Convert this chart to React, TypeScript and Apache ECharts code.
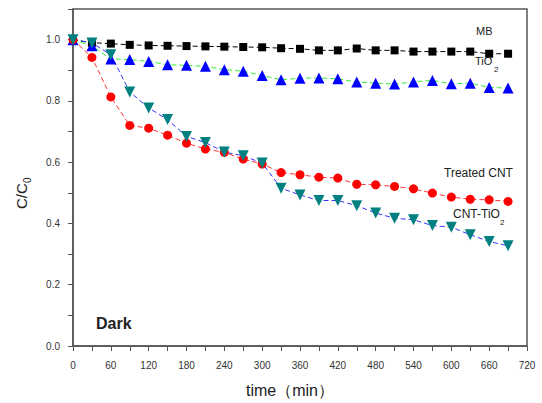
import React, { useEffect, useRef } from "react";
import * as echarts from "echarts";

const times = [0, 30, 60, 90, 120, 150, 180, 210, 240, 270, 300, 330, 360, 390, 420, 450, 480, 510, 540, 570, 600, 630, 660, 690];
const mb = [1.0, 0.99, 0.987, 0.983, 0.981, 0.98, 0.979, 0.978, 0.977, 0.976, 0.975, 0.972, 0.97, 0.965, 0.965, 0.971, 0.965, 0.965, 0.961, 0.961, 0.961, 0.961, 0.954, 0.954];
const tio2 = [1.0, 0.98, 0.937, 0.935, 0.929, 0.918, 0.916, 0.913, 0.902, 0.897, 0.883, 0.869, 0.874, 0.875, 0.872, 0.862, 0.858, 0.855, 0.862, 0.867, 0.856, 0.858, 0.844, 0.842];
const treatedCnt = [1.0, 0.942, 0.813, 0.72, 0.711, 0.688, 0.662, 0.643, 0.632, 0.61, 0.594, 0.566, 0.559, 0.551, 0.548, 0.528, 0.526, 0.521, 0.513, 0.499, 0.486, 0.479, 0.477, 0.472];
const cntTio2 = [1.0, 0.989, 0.951, 0.829, 0.777, 0.739, 0.684, 0.664, 0.633, 0.621, 0.597, 0.515, 0.493, 0.475, 0.475, 0.458, 0.434, 0.417, 0.412, 0.393, 0.388, 0.363, 0.341, 0.327];

const FONT = "Liberation Sans, Arial, sans-serif";

function pairs(vals: number[]) {
  return times.map((t, i) => [t, vals[i]]);
}

export default function App() {
  const ref = useRef<HTMLDivElement>(null);
  useEffect(() => {
    if (!ref.current) return;
    const chart = echarts.init(ref.current, null, { renderer: "svg" });
    const axisColor = "#555";
    const mk = (name: string, vals: number[], lineColor: string, markColor: string, symbol: string, size: number, rotate = 0) => ({
      name,
      type: "line",
      data: pairs(vals),
      symbol,
      symbolSize: size,
      symbolRotate: rotate,
      lineStyle: { color: lineColor, width: 1, type: [5, 3] },
      itemStyle: { color: markColor, borderWidth: 0 },
      emphasis: { disabled: true },
    });
    const lab = (x: number, y: number, text: string, size: number, weight = "normal") => ({
      type: "text",
      x,
      y,
      style: { text, font: `${weight} ${size}px ${FONT}`, fill: "#222", verticalAlign: "middle" },
    });
    chart.setOption({
      animation: false,
      grid: { left: 73, right: 15, top: 9, bottom: 57, show: true, borderColor: axisColor, borderWidth: 1.5 },
      xAxis: {
        type: "value",
        min: 0,
        max: 720,
        interval: 30,
        axisLine: { show: true, lineStyle: { color: axisColor, width: 1.5 } },
        axisTick: { show: true, inside: false, length: 5, lineStyle: { color: axisColor } },
        splitLine: { show: false },
        axisLabel: {
          color: "#333",
          fontSize: 10,
          fontFamily: FONT,
          margin: 14,
          formatter: (v: number) => (Math.round(v) % 60 === 0 ? String(v) : ""),
        },
      },
      yAxis: {
        type: "value",
        min: 0,
        max: 1.1,
        interval: 0.1,
        axisLine: { show: true, lineStyle: { color: axisColor, width: 1.5 } },
        axisTick: { show: true, inside: false, length: 5, lineStyle: { color: axisColor } },
        splitLine: { show: false },
        axisLabel: {
          color: "#333",
          fontSize: 10,
          fontFamily: FONT,
          margin: 13,
          formatter: (v: number) => {
            const k = Math.round(v * 10);
            return k % 2 === 0 && k <= 10 ? (k / 10).toFixed(1) : "";
          },
        },
      },
      series: [
        mk("MB", mb, "#000000", "#000000", "rect", 8),
        mk("TiO2", tio2, "#33ee33", "#0000ff", "triangle", 11),
        mk("Treated CNT", treatedCnt, "#ff3333", "#ff0000", "circle", 9),
        mk("CNT-TiO2", cntTio2, "#3333ff", "#008080", "triangle", 11, 180),
      ],
      graphic: [
        lab(476, 31, "MB", 11),
        lab(475, 61, "TiO", 11),
        lab(494, 69, "2", 8),
        lab(444, 173, "Treated CNT", 12),
        lab(453, 214, "CNT-TiO", 12),
        lab(500, 222, "2", 8),
        lab(96, 323, "Dark", 16, "bold"),
        {
          type: "text",
          x: 290,
          y: 390,
          style: { text: "time\uff08min\uff09", font: `16px ${FONT}`, fill: "#222", align: "center", verticalAlign: "middle" },
        },
        {
          type: "group",
          x: 14,
          y: 209,
          rotation: Math.PI / 2,
          children: [
            { type: "text", x: 0, y: 0, style: { text: "C/C", font: `15px ${FONT}`, fill: "#222" } },
            { type: "text", x: 26, y: 8, style: { text: "0", font: `10px ${FONT}`, fill: "#222" } },
          ],
        },
      ],
    });
    return () => chart.dispose();
  }, []);
  return <div ref={ref} style={{ position: "fixed", left: 0, top: 0, width: 542, height: 403, background: "#fff" }} />;
}
